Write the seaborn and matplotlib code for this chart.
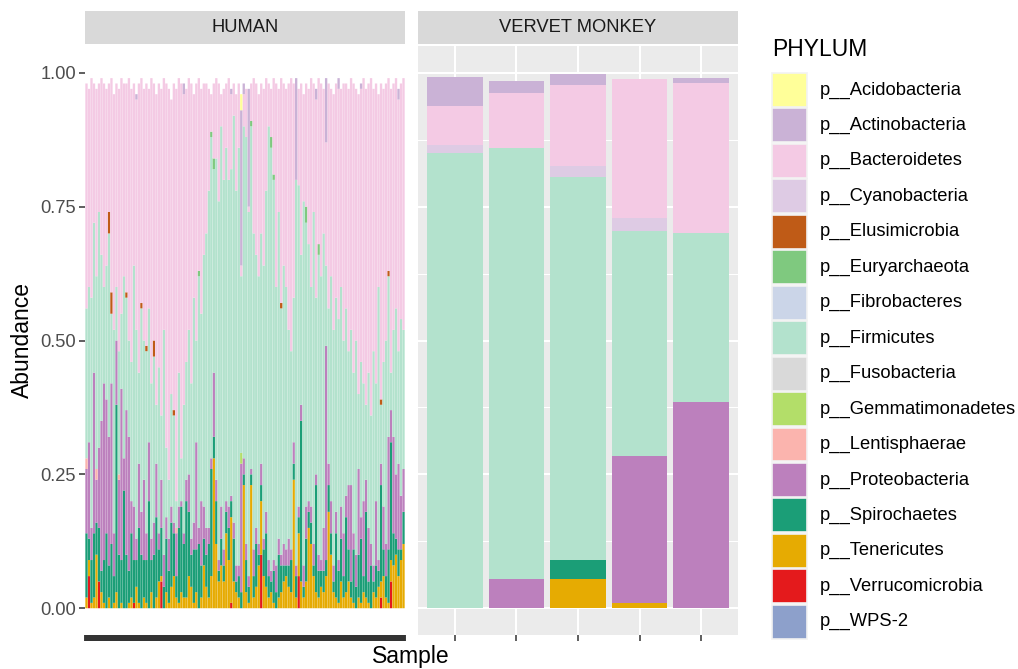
import numpy as np
import pandas as pd
import matplotlib
matplotlib.use("Agg")
import matplotlib.pyplot as plt
import seaborn as sns
from matplotlib.patches import Rectangle

# ---------------- data ----------------
PHYLA = ["p__Acidobacteria", "p__Actinobacteria", "p__Bacteroidetes", "p__Cyanobacteria",
         "p__Elusimicrobia", "p__Euryarchaeota", "p__Fibrobacteres", "p__Firmicutes",
         "p__Fusobacteria", "p__Gemmatimonadetes", "p__Lentisphaerae", "p__Proteobacteria",
         "p__Spirochaetes", "p__Tenericutes", "p__Verrucomicrobia", "p__WPS-2"]
COLORS = ["#FFFF99", "#CAB2D6", "#F4CAE4", "#DECBE4", "#BF5B17", "#7FC97F", "#CBD5E8", "#B3E2CD",
          "#D9D9D9", "#B3DE69", "#FBB4AE", "#BC80BD", "#1B9E77", "#E6AB02", "#E41A1C", "#8DA0CB"]

FACETS = ["HUMAN", "VERVET MONKEY"]

# Human samples (percent abundance), 128 samples
human_tenericutes = [2, 3, 1, 2, 10, 0, 3, 1, 0, 2, 0, 1, 3, 0, 1, 0,
                     0, 1, 2, 0, 4, 1, 0, 2, 1, 0, 3, 0, 2, 5, 1, 0,
                     3, 1, 4, 6, 2, 1, 3, 2, 2, 6, 4, 1, 3, 0, 2, 8,
                     4, 2, 6, 28, 12, 5, 8, 5, 14, 9, 16, 5, 3, 2, 0, 23,
                     3, 1, 23, 2, 4, 8, 10, 6, 4, 2, 3, 1, 0, 2, 3, 5,
                     6, 4, 3, 24, 2, 8, 5, 2, 5, 15, 12, 6, 3, 2, 4, 3,
                     6, 18, 10, 3, 2, 1, 5, 2, 3, 5, 2, 1, 0, 2, 1, 3,
                     2, 1, 0, 3, 2, 4, 3, 6, 2, 1, 4, 8, 10, 6, 9, 12]
human_spirochaetes = [12, 4, 8, 12, 6, 10, 4, 8, 14, 6, 12, 5, 35, 10, 8, 22,
                      10, 6, 12, 8, 5, 14, 10, 7, 8, 20, 6, 10, 15, 6, 9, 4,
                      10, 6, 12, 8, 4, 14, 16, 10, 18, 12, 6, 10, 8, 12, 6, 5,
                      6, 10, 20, 4, 8, 2, 5, 3, 4, 6, 3, 8, 2, 4, 3, 2,
                      6, 3, 2, 4, 8, 2, 3, 5, 10, 4, 2, 6, 3, 8, 5, 3,
                      2, 4, 6, 3, 4, 3, 30, 2, 8, 3, 4, 2, 20, 5, 3, 4,
                      3, 5, 4, 2, 12, 6, 8, 4, 14, 6, 3, 10, 4, 8, 12, 3,
                      16, 4, 8, 2, 6, 3, 18, 5, 4, 10, 22, 6, 3, 5, 2, 6]
human_proteobacteria = [12, 18, 6, 30, 8, 15, 28, 33, 25, 24, 30, 8, 12, 14, 32, 6,
                        27, 25, 6, 10, 4, 12, 8, 15, 5, 11, 4, 6, 10, 3, 9, 6,
                        4, 6, 3, 2, 8, 4, 1, 2, 4, 7, 3, 5, 20, 3, 12, 6,
                        5, 3, 2, 12, 4, 2, 6, 3, 2, 4, 1, 3, 3, 2, 24, 3,
                        3, 2, 1, 5, 3, 2, 4, 2, 4, 3, 2, 2, 5, 3, 2, 4,
                        3, 5, 2, 4, 2, 2, 3, 4, 6, 2, 3, 4, 2, 3, 2, 8,
                        40, 4, 6, 3, 4, 2, 6, 8, 4, 12, 18, 3, 6, 16, 4, 14,
                        6, 10, 4, 3, 12, 2, 4, 8, 6, 21, 6, 18, 12, 16, 10, 8]
human_firmicutes = [28, 29, 43, 28, 36, 44, 31, 18, 25, 38, 13, 38, 10, 23, 14, 34,
                    21, 18, 26, 45, 39, 17, 38, 26, 34, 25, 29, 31, 11, 31, 12, 42,
                    13, 11, 21, 20, 5, 25, 8, 24, 22, 27, 29, 42, 19, 47, 35, 47,
                    55, 63, 60, 38, 60, 67, 71, 69, 66, 61, 61, 76, 70, 78, 33, 62,
                    76, 68, 64, 59, 51, 50, 43, 51, 60, 81, 79, 71, 52, 61, 46, 52,
                    49, 39, 37, 27, 72, 60, 28, 68, 53, 48, 41, 62, 33, 56, 53, 55,
                    15, 29, 42, 44, 40, 45, 41, 36, 35, 25, 29, 30, 40, 14, 29, 22,
                    14, 29, 24, 40, 22, 51, 11, 27, 38, 30, 7, 20, 31, 21, 33, 26]
human_bacteroidetes = [42, 37, 41, 26, 35, 24, 33, 38, 33, 24, 40, 44, 38, 49, 44, 36,
                       39, 49, 51, 34, 43, 54, 42, 47, 49, 41, 57, 48, 58, 53, 61, 47,
                       68, 73, 55, 61, 77, 55, 70, 58, 51, 47, 56, 38, 48, 36, 42, 32,
                       28, 19, 7, 14, 15, 22, 6, 17, 12, 19, 14, 6, 18, 12, 2, 6,
                       9, 1, 7, 29, 32, 34, 28, 33, 21, 8, 9, 18, 38, 23, 42, 34,
                       37, 46, 51, 40, 0, 18, 32, 20, 23, 29, 39, 24, 37, 31, 36, 27,
                       23, 42, 35, 44, 40, 43, 37, 48, 42, 49, 47, 54, 47, 56, 51, 57,
                       59, 54, 63, 49, 56, 36, 59, 51, 48, 36, 53, 46, 43, 47, 44, 47]
human_actinobacteria = {20: 1, 39: 2, 58: 1, 62: 29, 63: 2, 65: 22, 84: 19, 92: 2,
                        96: 12, 101: 2, 110: 1, 125: 2}
human_verrucomicrobia = {1: 6, 5: 5, 19: 1, 30: 5, 58: 1, 70: 10, 85: 6, 118: 2, 122: 5}
human_elusimicrobia = {9: 4, 10: 4, 16: 1, 22: 1, 24: 1, 27: 3, 35: 1, 78: 1, 118: 1, 121: 1}
human_euryarchaeota = {45: 1, 50: 1, 51: 2, 66: 1, 74: 2, 75: 1, 88: 3, 93: 2}
human_lentisphaerae = {0: 2, 4: 2, 13: 1, 36: 1}
human_gemmatimonadetes = {62: 2}
human_acidobacteria = {62: 3}

# Vervet monkey samples (fraction)
vervet_firmicutes = [0.851, 0.805, 0.715, 0.42, 0.314]
vervet_cyanobacteria = [0.015, 0.0, 0.020, 0.023, 0.0]
vervet_bacteroidetes = [0.072, 0.103, 0.152, 0.261, 0.281]
vervet_actinobacteria = [0.055, 0.022, 0.020, 0.0, 0.010]
vervet_proteobacteria = [0.0, 0.055, 0.0, 0.275, 0.386]
vervet_spirochaetes = [0.0, 0.0, 0.037, 0.0, 0.0]
vervet_tenericutes = [0.0, 0.0, 0.054, 0.010, 0.0]

# ---------------- build tables ----------------
N_H = len(human_firmicutes)
def human_table():
    full = {
        "p__Tenericutes": human_tenericutes,
        "p__Spirochaetes": human_spirochaetes,
        "p__Proteobacteria": human_proteobacteria,
        "p__Firmicutes": human_firmicutes,
        "p__Bacteroidetes": human_bacteroidetes,
    }
    sparse = {
        "p__Actinobacteria": human_actinobacteria,
        "p__Verrucomicrobia": human_verrucomicrobia,
        "p__Elusimicrobia": human_elusimicrobia,
        "p__Euryarchaeota": human_euryarchaeota,
        "p__Lentisphaerae": human_lentisphaerae,
        "p__Gemmatimonadetes": human_gemmatimonadetes,
        "p__Acidobacteria": human_acidobacteria,
    }
    rows = []
    for ph in PHYLA:
        for s in range(N_H):
            if ph in full:
                v = full[ph][s]
            else:
                v = sparse.get(ph, {}).get(s, 0)
            rows.append((s, ph, v / 100.0))
    return pd.DataFrame(rows, columns=["sample", "phylum", "abundance"])

def vervet_table():
    full = {
        "p__Firmicutes": vervet_firmicutes,
        "p__Cyanobacteria": vervet_cyanobacteria,
        "p__Bacteroidetes": vervet_bacteroidetes,
        "p__Actinobacteria": vervet_actinobacteria,
        "p__Proteobacteria": vervet_proteobacteria,
        "p__Spirochaetes": vervet_spirochaetes,
        "p__Tenericutes": vervet_tenericutes,
    }
    rows = []
    for ph in PHYLA:
        for s in range(len(vervet_firmicutes)):
            v = full[ph][s] if ph in full else 0.0
            rows.append((s, ph, v))
    return pd.DataFrame(rows, columns=["sample", "phylum", "abundance"])

dfh = human_table()
dfv = vervet_table()
palette = dict(zip(PHYLA, COLORS))

# ---------------- figure ----------------
W, H = 1018, 669
fig = plt.figure(figsize=(W / 100, H / 100), dpi=100)
FONT = "Liberation Sans"
plt.rcParams["font.family"] = [FONT, "DejaVu Sans"]

def fx(px):
    return px / W
def fy(py):
    return 1 - py / H

pan_top, pan_bot = 46, 635
axh = fig.add_axes([fx(85), fy(pan_bot), (405 - 85) / W, (pan_bot - pan_top) / H])
axv = fig.add_axes([fx(418), fy(pan_bot), (738 - 418) / W, (pan_bot - pan_top) / H])

for ax, df, n, shr in [(axh, dfh, N_H, 0.93), (axv, dfv, len(vervet_firmicutes), 0.9)]:
    sns.histplot(data=df, x="sample", hue="phylum", weights="abundance",
                 multiple="stack", discrete=True, shrink=shr, hue_order=PHYLA,
                 palette=palette, alpha=1, linewidth=0, legend=False, ax=ax)
    ax.set_xlim(-0.6, n - 1 + 0.6)
    ax.set_ylim(-0.05, 1.05)
    ax.set_xlabel("")
    ax.set_ylabel("")
    for sp in ax.spines.values():
        sp.set_visible(False)
    ax.set_xticks(range(n))
    ax.set_xticklabels([])

for p in axh.patches:
    p.set_snap(False)

# Human panel: white (dense sample gridlines)
axh.set_facecolor("white")
axh.set_yticks([0, 0.25, 0.5, 0.75, 1.0])
axh.set_yticklabels(["0.00", "0.25", "0.50", "0.75", "1.00"])
axh.tick_params(axis="y", length=4.1, width=1.1, color="#333333", labelcolor="#4D4D4D",
                labelsize=13.2, pad=2.5)
axh.tick_params(axis="x", length=4.1, width=2.8, color="#333333")
axh.set_axisbelow(True)

# Vervet panel: grey background with grid
axv.set_facecolor("#EBEBEB")
axv.set_yticks([0, 0.25, 0.5, 0.75, 1.0])
axv.set_yticks([0.125, 0.375, 0.625, 0.875], minor=True)
axv.set_yticklabels([])
axv.tick_params(axis="y", which="both", length=0)
axv.tick_params(axis="x", length=4.1, width=1.1, color="#333333")
axv.grid(True, which="major", color="white", linewidth=1.5)
axv.grid(True, which="minor", axis="y", color="white", linewidth=0.75)
axv.set_axisbelow(True)

# strips
for x0, label in [(85, FACETS[0]), (418, FACETS[1])]:
    sa = fig.add_axes([fx(x0), fy(44), 320 / W, 33 / H])
    sa.set_facecolor("#D9D9D9")
    sa.set_xticks([]); sa.set_yticks([])
    for sp in sa.spines.values():
        sp.set_visible(False)
    sa.text(0.5, 0.5, label, ha="center", va="center", fontsize=13.2, color="#1A1A1A",
            transform=sa.transAxes)

# overlay for titles / legend in pixel coordinates
ov = fig.add_axes([0, 0, 1, 1])
ov.set_xlim(0, W); ov.set_ylim(H, 0)
ov.axis("off")
ov.patch.set_alpha(0)

ov.text(22, 340, "Abundance", rotation=90, ha="center", va="center", fontsize=16.5, color="black")
ov.text(411, 657, "Sample", ha="center", va="center", fontsize=16.5, color="black")

ov.text(772, 50, "PHYLUM", ha="left", va="center", fontsize=16.5, color="black")
step = 35.45
for k, (ph, col) in enumerate(zip(PHYLA, COLORS)):
    top = 73 + k * step
    ov.add_patch(Rectangle((772, top), 35, step - 1.5, facecolor=col, edgecolor="#F2F2F2", linewidth=1.2))
    ov.text(820, top + (step - 1.5) / 2, ph, ha="left", va="center", fontsize=13.2, color="black")

fig.savefig("out.png", dpi=100)
